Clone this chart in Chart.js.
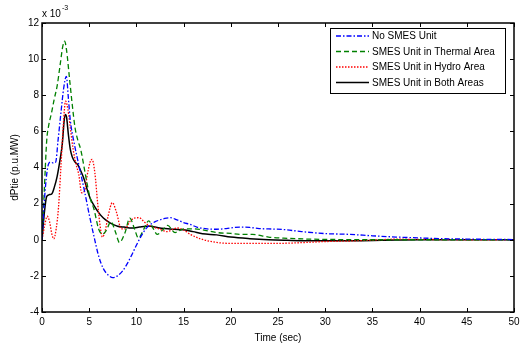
<!DOCTYPE html>
<html>
<head>
<meta charset="utf-8">
<script src="https://cdn.jsdelivr.net/npm/chart.js@4/dist/chart.umd.min.js"></script>
<style>
  html, body { margin: 0; padding: 0; background: #fff; }
  canvas { display: block; }
</style>
</head>
<body>
<canvas id="dptie-chart" width="520" height="347"></canvas>
<script>
// Tie-line power deviation, values in units of 1e-3 p.u.MW
const seriesLabels = ['No SMES Unit', 'SMES Unit in Thermal Area', 'SMES Unit in Hydro Area', 'SMES Unit in Both Areas'];

const noSmesTime = [0, 0.3, 0.6, 0.9, 1.2, 1.45, 1.7, 2.0, 2.3, 2.58, 2.8, 3.0, 3.35, 4.0, 4.5, 5.0, 5.5, 6.0, 6.5, 7.0, 7.5, 8.0, 8.5, 9.0, 9.5, 10.0, 10.5, 11.0, 11.5, 12.0, 12.5, 13.0, 13.6, 14.3, 15.0, 15.7, 16.4, 17.5, 18.5, 19.5, 21.0, 22.0, 23.0, 24.0, 25.5, 27.5, 30, 32.5, 35, 37.5, 40, 42.5, 45, 47.5, 50];
const noSmesValues = [0, 2.5, 4.0, 4.3, 4.25, 4.3, 5.5, 7.0, 8.4, 9.05, 7.8, 6.6, 5.5, 3.9, 2.7, 1.4, 0.2, -0.9, -1.6, -1.95, -2.1, -2.0, -1.75, -1.35, -0.85, -0.3, 0.2, 0.6, 0.85, 1.0, 1.1, 1.18, 1.22, 1.1, 0.95, 0.85, 0.7, 0.6, 0.58, 0.62, 0.7, 0.68, 0.62, 0.6, 0.57, 0.45, 0.34, 0.3, 0.22, 0.15, 0.1, 0.06, 0.04, 0.02, 0.01];

const thermalTime = [0, 0.25, 0.5, 0.7, 1.0, 1.3, 1.6, 1.9, 2.2, 2.4, 2.6, 2.9, 3.2, 3.5, 3.8, 4.1, 4.6, 5.1, 5.5, 6.0, 6.4, 6.8, 7.3, 7.8, 8.2, 8.8, 9.3, 9.8, 10.2, 10.8, 11.3, 11.8, 12.2, 12.8, 13.3, 14.1, 15, 16, 17, 18.5, 20, 21, 22.3, 24, 26, 28, 30, 35, 40, 45, 50];
const thermalValues = [0, 2.8, 5.5, 6.3, 7.0, 7.8, 8.5, 9.6, 10.7, 11.0, 10.5, 9.0, 7.5, 6.2, 5.5, 5.0, 3.6, 2.3, 1.7, 0.6, 0.3, 0.5, 1.0, 0.4, -0.15, 0.4, 1.2, 0.6, 0.1, 0.6, 1.05, 0.6, 0.3, 0.55, 0.8, 0.4, 0.6, 0.6, 0.55, 0.4, 0.35, 0.3, 0.3, 0.15, 0.08, 0.04, 0.02, 0, 0, 0, 0];

const hydroTime = [0, 0.25, 0.55, 0.8, 1.05, 1.25, 1.5, 1.75, 2.0, 2.25, 2.5, 2.75, 3.0, 3.3, 3.6, 3.9, 4.2, 4.5, 4.8, 5.1, 5.3, 5.6, 5.9, 6.2, 6.4, 6.7, 7.0, 7.45, 7.9, 8.4, 8.8, 9.3, 9.8, 10.3, 10.8, 11.3, 12.4, 13.25, 14.3, 15.0, 15.7, 16.8, 18.5, 20, 22, 25, 27.5, 30, 32.5, 35, 37.5, 40, 45, 50];
const hydroValues = [0, 0.7, 1.3, 1.0, 0.3, 0.05, 0.6, 1.8, 4.0, 6.3, 7.67, 7.2, 6.2, 5.0, 4.2, 3.6, 2.6, 2.7, 3.6, 4.3, 4.45, 3.7, 2.0, 0.6, 0.15, 0.5, 1.3, 2.05, 1.5, 0.6, 0.6, 1.0, 1.2, 1.22, 1.0, 0.8, 0.6, 0.45, 0.65, 0.55, 0.3, 0.05, -0.15, -0.2, -0.2, -0.2, -0.16, -0.1, -0.07, -0.02, 0.03, 0.02, 0, 0];

const bothTime = [0, 0.25, 0.5, 0.8, 1.05, 1.3, 1.6, 1.9, 2.15, 2.35, 2.47, 2.6, 2.8, 3.0, 3.2, 3.5, 3.8, 4.2, 4.5, 4.8, 5.1, 5.5, 6.0, 6.5, 7.0, 7.5, 8.0, 8.7, 9.5, 10.3, 11.0, 11.5, 12.2, 13.0, 14.0, 15.0, 16.0, 17.0, 18.5, 20.0, 22.0, 24, 26, 28, 30, 33, 36, 40, 45, 50];
const bothValues = [0, 1.5, 2.4, 2.5, 2.55, 2.9, 3.5, 4.4, 5.3, 6.6, 6.94, 6.8, 5.8, 5.0, 4.6, 4.3, 4.15, 3.7, 3.3, 2.75, 2.3, 1.9, 1.5, 1.2, 1.0, 0.85, 0.75, 0.7, 0.65, 0.7, 0.75, 0.75, 0.68, 0.62, 0.58, 0.55, 0.45, 0.33, 0.27, 0.15, 0.06, 0.0, -0.03, -0.05, -0.05, -0.05, -0.03, 0, 0, 0];

const xTicks = [0, 5, 10, 15, 20, 25, 30, 35, 40, 45, 50];
const yTicks = [-4, -2, 0, 2, 4, 6, 8, 10, 12];

const FONT = '"Liberation Sans", Arial, Helvetica, sans-serif';

function toPoints(times, values) {
    return times.map((t, i) => ({ x: t, y: values[i] }));
}

// Box round the plot with MATLAB style ticks pointing inwards
const matlabFrame = {
    id: 'matlabFrame',
    afterDraw(chart) {
        const ctx = chart.ctx;
        const a = chart.chartArea;
        const xs = chart.scales.x;
        const ys = chart.scales.y;
        const tl = 4;
        ctx.save();
        ctx.strokeStyle = '#000';
        ctx.lineWidth = 1;
        ctx.beginPath();
        xTicks.forEach(v => {
            const px = Math.round(xs.getPixelForValue(v)) + 0.5;
            ctx.moveTo(px, a.bottom); ctx.lineTo(px, a.bottom - tl);
            ctx.moveTo(px, a.top); ctx.lineTo(px, a.top + tl);
        });
        yTicks.forEach(v => {
            const py = Math.round(ys.getPixelForValue(v)) + 0.5;
            ctx.moveTo(a.left, py); ctx.lineTo(a.left + tl, py);
            ctx.moveTo(a.right, py); ctx.lineTo(a.right - tl, py);
        });
        ctx.stroke();
        ctx.lineWidth = 1.5;
        ctx.strokeRect(a.left, a.top, a.right - a.left, a.bottom - a.top);

        // exponent label
        ctx.fillStyle = '#000';
        ctx.textBaseline = 'alphabetic';
        ctx.textAlign = 'left';
        ctx.font = '10px ' + FONT;
        ctx.fillText('x 10', a.left, a.top - 6);
        const w = ctx.measureText('x 10').width;
        ctx.font = '7px ' + FONT;
        ctx.fillText('-3', a.left + w + 1, a.top - 13);

        // legend
        const lx = 330, ly = 28, lw = 175, lh = 65;
        ctx.fillStyle = '#fff';
        ctx.fillRect(lx, ly, lw, lh);
        ctx.lineWidth = 1;
        ctx.strokeStyle = '#000';
        ctx.strokeRect(lx + 0.5, ly + 0.5, lw, lh);
        ctx.font = '10px ' + FONT;
        ctx.textBaseline = 'middle';
        chart.data.datasets.forEach((ds, i) => {
            const y = ly + 8 + i * 15.5;
            ctx.strokeStyle = ds.borderColor;
            ctx.lineWidth = ds.borderWidth;
            ctx.setLineDash(ds.borderDash || []);
            ctx.beginPath();
            ctx.moveTo(lx + 6, y);
            ctx.lineTo(lx + 39, y);
            ctx.stroke();
            ctx.setLineDash([]);
            ctx.fillStyle = '#000';
            ctx.fillText(ds.label, lx + 42, y + 0.5);
        });
        ctx.restore();
    }
};

const lineBase = { pointRadius: 0, fill: false, tension: 0.35, cubicInterpolationMode: 'monotone' };

new Chart(document.getElementById('dptie-chart'), {
    type: 'line',
    data: {
        datasets: [
            Object.assign({ label: seriesLabels[0], data: toPoints(noSmesTime, noSmesValues), borderColor: '#0000ff', borderWidth: 1.3, borderDash: [5, 2, 1.5, 2] }, lineBase),
            Object.assign({ label: seriesLabels[1], data: toPoints(thermalTime, thermalValues), borderColor: '#008000', borderWidth: 1.3, borderDash: [5, 3] }, lineBase),
            Object.assign({ label: seriesLabels[2], data: toPoints(hydroTime, hydroValues), borderColor: '#ff0000', borderWidth: 1.3, borderDash: [1.5, 1.5] }, lineBase),
            Object.assign({ label: seriesLabels[3], data: toPoints(bothTime, bothValues), borderColor: '#000000', borderWidth: 1.5 }, lineBase)
        ]
    },
    options: {
        responsive: false,
        animation: false,
        layout: { padding: { top: 23, right: 0, left: 0, bottom: 0 } },
        plugins: {
            legend: { display: false },
            tooltip: { enabled: false }
        },
        scales: {
            x: {
                type: 'linear',
                min: 0,
                max: 50,
                grid: { display: false, drawTicks: false },
                border: { display: false },
                afterBuildTicks: scale => { scale.ticks = xTicks.map(v => ({ value: v })); },
                afterFit: scale => { scale.height = 35; scale.paddingRight = 6; },
                ticks: { color: '#000', font: { size: 10, family: FONT }, padding: 4, maxRotation: 0 },
                title: { display: true, text: 'Time (sec)', color: '#000', font: { size: 10, family: FONT }, padding: { top: 0, bottom: 3 } }
            },
            y: {
                min: -4,
                max: 12,
                grid: { display: false, drawTicks: false },
                border: { display: false },
                afterBuildTicks: scale => { scale.ticks = yTicks.map(v => ({ value: v })); },
                afterFit: scale => { scale.width = 42; },
                ticks: { color: '#000', font: { size: 10, family: FONT }, padding: 3 },
                title: { display: true, text: 'dPtie (p.u.MW)', color: '#000', font: { size: 10, family: FONT }, padding: { top: 9, bottom: 0 } }
            }
        }
    },
    plugins: [matlabFrame]
});
</script>
</body>
</html>
